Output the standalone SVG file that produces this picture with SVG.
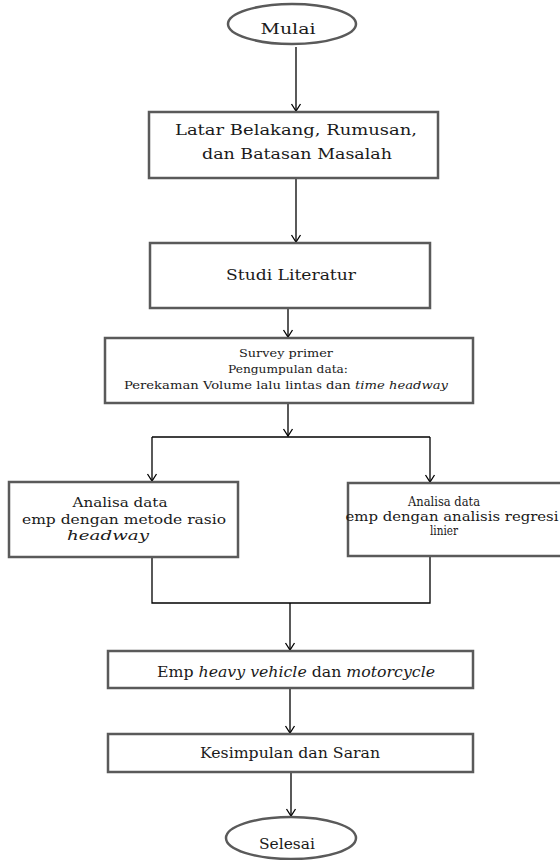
<svg xmlns="http://www.w3.org/2000/svg" width="560" height="860" viewBox="0 0 560 860">
<defs>
<style>
.box{fill:#fff;stroke:#5a5a5a;stroke-width:2.5}
.con{fill:none;stroke:#000;stroke-width:1.3}
text{font-family:'DejaVu Serif','Liberation Serif',serif;fill:#1a1a1a;text-anchor:middle}
.i{font-style:italic}
</style>
<marker id="arr" markerUnits="userSpaceOnUse" markerWidth="14" markerHeight="14" refX="0" refY="0" viewBox="-10 -7 12 14" orient="auto">
<path d="M-7,-4.5 L0,0 L-7,4.5" fill="none" stroke="#000" stroke-width="1.3"/>
</marker>
</defs>
<rect width="560" height="860" fill="#fff"/>

<g id="connectors">
<line class="con" x1="296" y1="47" x2="296" y2="111" marker-end="url(#arr)"/>
<line class="con" x1="296" y1="178" x2="296" y2="242" marker-end="url(#arr)"/>
<line class="con" x1="288" y1="308" x2="288" y2="337" marker-end="url(#arr)"/>
<line class="con" x1="288" y1="403" x2="288" y2="436" marker-end="url(#arr)"/>
<line class="con" x1="152" y1="437" x2="430" y2="437"/>
<line class="con" x1="152" y1="437" x2="152" y2="481" marker-end="url(#arr)"/>
<line class="con" x1="430" y1="437" x2="430" y2="482" marker-end="url(#arr)"/>
<polyline class="con" points="152,557 152,603 430,603 430,556"/>
<line class="con" x1="290" y1="603" x2="290" y2="650" marker-end="url(#arr)"/>
<line class="con" x1="290" y1="688" x2="290" y2="733" marker-end="url(#arr)"/>
<line class="con" x1="291" y1="772" x2="291" y2="816" marker-end="url(#arr)"/>
</g>

<g id="mulai">
<ellipse class="box" cx="292" cy="24" rx="64" ry="20"/>
<text x="288" y="34" font-size="15" textLength="55" lengthAdjust="spacingAndGlyphs">Mulai</text>
</g>

<g id="latar">
<rect class="box" x="149" y="112" width="289" height="66"/>
<text x="296" y="135" font-size="15" textLength="242" lengthAdjust="spacingAndGlyphs">Latar Belakang, Rumusan,</text>
<text x="297" y="159" font-size="15" textLength="190" lengthAdjust="spacingAndGlyphs">dan Batasan Masalah</text>
</g>

<g id="studi">
<rect class="box" x="150" y="243" width="280" height="65"/>
<text x="291" y="280" font-size="15" textLength="130" lengthAdjust="spacingAndGlyphs">Studi Literatur</text>
</g>

<g id="survey">
<rect class="box" x="105" y="338" width="368" height="65"/>
<text x="286" y="357" font-size="11" textLength="94" lengthAdjust="spacingAndGlyphs">Survey primer</text>
<text x="288" y="373" font-size="11" textLength="120" lengthAdjust="spacingAndGlyphs">Pengumpulan data:</text>
<text x="286" y="389" font-size="11" textLength="324" lengthAdjust="spacingAndGlyphs">Perekaman Volume lalu lintas dan <tspan class="i">time headway</tspan></text>
</g>

<g id="analisa-rasio">
<rect class="box" x="9" y="482" width="229" height="75"/>
<text x="120" y="507" font-size="13" textLength="95" lengthAdjust="spacingAndGlyphs">Analisa data</text>
<text x="124" y="524" font-size="13" textLength="204" lengthAdjust="spacingAndGlyphs">emp dengan metode rasio</text>
<text class="i" x="108" y="540" font-size="13" textLength="82" lengthAdjust="spacingAndGlyphs">headway</text>
</g>

<g id="analisa-regresi">
<rect class="box" x="348" y="483" width="220" height="73"/>
<text x="444" y="506" font-size="13" textLength="72" lengthAdjust="spacingAndGlyphs">Analisa data</text>
<text x="452" y="521" font-size="13" textLength="213" lengthAdjust="spacingAndGlyphs">emp dengan analisis regresi</text>
<text x="444" y="535" font-size="13" textLength="28" lengthAdjust="spacingAndGlyphs">linier</text>
</g>

<g id="emp">
<rect class="box" x="108" y="651" width="365" height="37"/>
<text x="296" y="677" font-size="14" textLength="278" lengthAdjust="spacingAndGlyphs">Emp <tspan class="i">heavy vehicle</tspan>  dan <tspan class="i">motorcycle</tspan></text>
</g>

<g id="kesimpulan">
<rect class="box" x="108" y="734" width="365" height="38"/>
<text x="290" y="758" font-size="14" textLength="180" lengthAdjust="spacingAndGlyphs">Kesimpulan dan Saran</text>
</g>

<g id="selesai">
<ellipse class="box" cx="291" cy="838" rx="65" ry="21"/>
<text x="287" y="849" font-size="14" textLength="56" lengthAdjust="spacingAndGlyphs">Selesai</text>
</g>
</svg>
